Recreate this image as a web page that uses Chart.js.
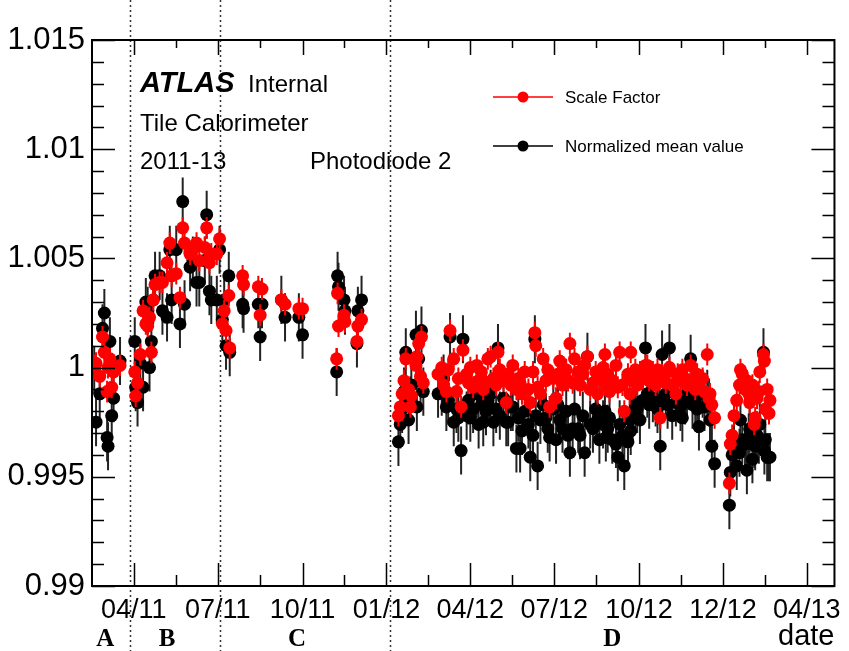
<!DOCTYPE html>
<html>
<head>
<meta charset="utf-8">
<script src="https://cdn.jsdelivr.net/npm/chart.js@4.4.0/dist/chart.umd.min.js"></script>
<style>
    html, body { margin: 0; padding: 0; background: #fff; }
    #wrap { width: 849px; height: 651px; }
</style>
</head>
<body>
<div id="wrap"><canvas id="myChart" width="849" height="651"></canvas></div>
<script>
// x axis: days counted from 2011-01-01
const tickDays = [90, 181, 273, 364, 455, 546, 638, 729, 820];
const tickLabels = ["04/11", "07/11", "10/11", "01/12", "04/12", "07/12", "10/12", "12/12", "04/13"];
const periodEdges = [86, 183, 368];
const periodNames = ["A", "B", "C", "D"];
const periodLabelDays = [59, 126, 267, 609];

const days = [
    // A
    47, 49, 53, 56, 58, 61, 62, 64, 66, 68, 75,
    // B
    91, 92, 94, 97, 100, 103, 105, 107, 109, 111, 113, 118, 121, 126, 129, 131, 136, 140, 143, 145,
    151, 154, 158, 161, 167, 169, 172, 174, 180, 183,
    // C
    186, 188, 190, 193, 194, 208, 209, 225, 227, 229, 250, 254, 269, 273, 310, 311, 312, 318, 319, 332, 333, 337,
    // D
    377, 379, 381, 383, 385, 388, 390, 391, 396, 397, 399, 401, 402, 404,
    420, 424, 426, 429, 431, 433, 437, 440, 442, 445, 447, 451, 453, 455, 458, 462, 464, 467, 469, 472,
    474, 477, 480, 483, 485, 487, 491, 494, 496, 499, 501, 505, 507, 509, 511, 514, 518, 520, 523, 525,
    526, 528, 531, 534, 537, 539, 541, 545, 548, 550, 552, 555, 559, 561, 563, 566, 568, 572, 574, 577,
    579, 582, 585, 588, 591, 593, 595, 599, 601, 602, 604, 606, 609, 613, 615, 617, 620, 622, 626, 628,
    629, 631, 634, 636, 639, 642, 645, 647, 649, 653, 656, 658, 660, 661, 663, 667, 669, 671, 674, 678,
    680, 683, 685, 688, 690, 694, 696, 699, 701, 703, 707, 709, 712, 714, 715, 717, 720,
    736, 737, 739, 741, 744, 747, 748, 750, 753, 755, 757, 758, 761, 763, 764, 766, 768, 769, 773, 774,
    775, 777, 779, 780
];

const scaleFactor = [
    1.0001, 1.0002, 0.9996, 1.0014, 1.0007, 0.9989, 1.0000, 1.0004, 0.9991, 0.9998, 1.0001,
    0.9998, 0.9987, 0.9993, 1.0006, 1.0026, 1.0020, 1.0019, 1.0023, 1.0007, 1.0031, 1.0038, 1.0039, 1.0039, 1.0048, 1.0057, 1.0042, 1.0043, 1.0032, 1.0064, 1.0057,
    1.0052, 1.0054, 1.0057, 1.0049, 1.0055, 1.0064, 1.0048, 1.0052, 1.0052, 1.0059,
    1.0020, 1.0026, 1.0017, 1.0033, 1.0009, 1.0042, 1.0038, 1.0037, 1.0024, 1.0036, 1.0031, 1.0029, 1.0027, 1.0027, 1.0004, 1.0034, 1.0019, 1.0024, 1.0021, 1.0012, 1.0019, 1.0022,
    0.9978, 0.9982, 0.9988, 0.9994, 1.0004, 0.9990, 0.9982, 0.9987, 1.0001, 1.0005, 1.0011, 0.9996, 1.0014, 0.9993,
    0.9997, 1.0000, 0.9992, 0.9989, 0.9999, 1.0017, 1.0004, 0.9989, 0.9995, 0.9982, 1.0008, 0.9997, 0.9993, 1.0000, 0.9991, 1.0001, 0.9994, 0.9998, 0.9990, 0.9993,
    1.0004, 1.0005, 0.9995, 0.9992, 1.0007, 0.9999, 0.9994, 0.9984, 0.9997, 0.9992, 1.0001, 0.9990, 0.9995, 0.9993, 0.9988, 0.9998, 0.9990, 0.9984, 0.9998, 1.0016,
    1.0010, 0.9991, 0.9988, 1.0004, 0.9994, 0.9999, 0.9982, 0.9995, 0.9986, 0.9997, 1.0003, 0.9992, 0.9999, 0.9994, 1.0011, 0.9993, 1.0004, 0.9998, 0.9992, 0.9997,
    1.0001, 1.0005, 0.9990, 0.9993, 0.9998, 0.9988, 0.9995, 1.0000, 1.0006, 0.9992, 0.9997, 0.9989, 0.9994, 1.0001, 0.9991, 1.0007, 0.9992, 0.9980, 0.9997, 0.9988,
    1.0007, 0.9994, 0.9999, 0.9992, 0.9998, 0.9995, 1.0001, 1.0001, 0.9994, 0.9998, 0.9992, 0.9999, 0.9995, 0.9977, 0.9997, 0.9993, 0.9998, 1.0000, 0.9992, 0.9988,
    0.9997, 0.9994, 0.9999, 0.9995, 0.9992, 1.0001, 0.9994, 0.9990, 0.9997, 0.9993, 0.9995, 0.9989, 1.0006, 0.9986, 0.9988, 0.9983, 0.9977,
    0.9947, 0.9965, 0.9969, 0.9978, 0.9985, 0.9992, 0.9999, 0.9997, 0.9990, 0.9994, 0.9988, 0.9984, 0.9992, 0.9974, 0.9977, 0.9986, 0.9989, 0.9998, 1.0006, 1.0003,
    0.9981, 0.9990, 0.9979, 0.9985
];

const meanValue = [
    0.9999, 0.9975, 0.9988, 1.0018, 1.0025, 0.9968, 0.9964, 1.0012, 0.9978, 0.9986, 1.0003,
    1.0012, 0.9991, 0.9984, 1.0002, 0.9991, 1.0030, 1.0026, 1.0000, 1.0012, 1.0031, 1.0042, 1.0042, 1.0026, 1.0023, 1.0054, 1.0031, 1.0054, 1.0020, 1.0076, 1.0029,
    1.0046, 1.0049, 1.0039, 1.0039, 1.0049, 1.0070, 1.0035, 1.0031, 1.0031, 1.0054,
    1.0022, 1.0031, 1.0010, 1.0042, 1.0007, 1.0029, 1.0027, 1.0029, 1.0014, 1.0029, 1.0031, 1.0023, 1.0023, 1.0015, 0.9998, 1.0042, 1.0037, 1.0031, 1.0026, 1.0011, 1.0026, 1.0031,
    0.9966, 0.9974, 0.9981, 0.9989, 1.0007, 0.9976, 0.9985, 0.9992, 1.0015, 0.9982, 1.0004, 0.9994, 1.0017, 0.9989,
    0.9988, 0.9989, 0.9995, 0.9982, 0.9985, 1.0014, 0.9975, 0.9981, 0.9977, 0.9962, 1.0013, 0.9978, 0.9985, 0.9977, 0.9981, 0.9988, 0.9974, 0.9983, 0.9975, 0.9980,
    0.9985, 0.9988, 0.9975, 0.9981, 1.0009, 0.9978, 0.9986, 0.9975, 0.9975, 0.9982, 0.9982, 0.9963, 0.9977, 0.9963, 0.9971, 0.9980, 0.9974, 0.9959, 0.9969, 1.0013,
    0.9978, 0.9955, 0.9976, 0.9983, 0.9977, 0.9972, 0.9968, 0.9981, 0.9967, 0.9983, 0.9976, 0.9972, 0.9980, 0.9969, 0.9961, 0.9972, 0.9981, 0.9972, 0.9969, 0.9978,
    0.9961, 1.0005, 0.9974, 0.9972, 0.9981, 0.9976, 0.9967, 0.9974, 0.9980, 0.9968, 0.9972, 0.9977, 0.9967, 0.9965, 0.9959, 0.9974, 0.9969, 0.9955, 0.9966, 0.9976,
    0.9971, 0.9978, 0.9983, 0.9981, 0.9976, 0.9985, 1.0009, 0.9988, 0.9983, 0.9986, 0.9984, 0.9981, 0.9985, 0.9964, 1.0006, 0.9988, 0.9983, 1.0009, 0.9978, 0.9984,
    0.9986, 0.9982, 0.9977, 0.9985, 0.9988, 1.0004, 0.9983, 0.9985, 0.9981, 0.9973, 0.9988, 0.9982, 0.9988, 0.9984, 0.9976, 0.9964, 0.9956,
    0.9937, 0.9952, 0.9960, 0.9964, 0.9955, 0.9961, 0.9976, 0.9967, 0.9965, 0.9953, 0.9968, 0.9972, 0.9958, 0.9965, 0.9964, 0.9969, 0.9967, 0.9974, 1.0007, 0.9962,
    0.9967, 0.9959, 0.9959, 0.9959
];

const sfError = 0.0005;
const meanError = 0.0011;

const sansFont = "'Liberation Sans', Arial, sans-serif";

function toPoints(values) {
    return values.map((v, i) => ({ x: days[i], y: v }));
}

// ROOT-like frame, inner ticks, error bars, run periods and texts
const rootStyle = {
    id: "rootStyle",
    beforeDatasetsDraw(chart) {
        const ctx = chart.ctx;
        const xs = chart.scales.x;
        ctx.save();
        ctx.strokeStyle = "#333";
        ctx.lineWidth = 1.5;
        ctx.setLineDash([2, 3]);
        periodEdges.forEach((d) => {
            const px = Math.round(xs.getPixelForValue(d)) + 0.5;
            ctx.beginPath();
            ctx.moveTo(px, 0);
            ctx.lineTo(px, chart.height);
            ctx.stroke();
        });
        ctx.restore();
    },
    beforeDatasetDraw(chart, args) {
        const ds = chart.data.datasets[args.index];
        const ys = chart.scales.y;
        const area = chart.chartArea;
        const ctx = chart.ctx;
        ctx.save();
        ctx.beginPath();
        ctx.rect(area.left, area.top, area.right - area.left, area.bottom - area.top);
        ctx.clip();
        ctx.strokeStyle = ds.errColor;
        ctx.lineWidth = 2;
        args.meta.data.forEach((pt, i) => {
            const v = ds.data[i].y;
            ctx.beginPath();
            ctx.moveTo(pt.x, ys.getPixelForValue(v - ds.errSize));
            ctx.lineTo(pt.x, ys.getPixelForValue(v + ds.errSize));
            ctx.stroke();
        });
        ctx.restore();
    },
    afterDraw(chart) {
        const ctx = chart.ctx;
        const { left, right, top, bottom } = chart.chartArea;
        const xs = chart.scales.x;
        const ys = chart.scales.y;

        ctx.save();
        ctx.strokeStyle = "#000";
        ctx.lineWidth = 2;
        ctx.strokeRect(left, top, right - left, bottom - top);

        // y ticks, both sides
        ctx.lineWidth = 1.5;
        for (let k = 0; k <= 25; k++) {
            const v = 0.99 + k * 0.001;
            const py = Math.round(ys.getPixelForValue(v)) + 0.5;
            const len = k % 5 === 0 ? 23 : 12;
            ctx.beginPath();
            ctx.moveTo(left, py);
            ctx.lineTo(left + len, py);
            ctx.moveTo(right, py);
            ctx.lineTo(right - len, py);
            ctx.stroke();
        }

        // x ticks, bottom and top
        const step = tickDays[1] - tickDays[0];
        const xTicks = [];
        tickDays.forEach((d) => {
            xTicks.push({ d, major: true });
            xTicks.push({ d: d + step / 2, major: false });
        });
        xTicks.forEach(({ d, major }) => {
            if (d > xs.max) return;
            const px = Math.round(xs.getPixelForValue(d)) + 0.5;
            ctx.beginPath();
            ctx.moveTo(px, bottom);
            ctx.lineTo(px, bottom - (major ? 23 : 11));
            ctx.moveTo(px, top);
            ctx.lineTo(px, top + (major ? 15 : 8));
            ctx.stroke();
        });

        // run period letters
        ctx.fillStyle = "#000";
        ctx.font = "bold 25px 'Liberation Serif', 'Times New Roman', serif";
        ctx.textAlign = "center";
        ctx.textBaseline = "alphabetic";
        periodNames.forEach((name, i) => {
            ctx.fillText(name, xs.getPixelForValue(periodLabelDays[i]), 646);
        });

        // labels inside the frame
        ctx.textAlign = "left";
        ctx.font = "italic bold 29px " + sansFont;
        ctx.fillText("ATLAS", 140, 92);
        ctx.font = "24px " + sansFont;
        ctx.fillText("Internal", 248, 92);
        ctx.fillText("Tile Calorimeter", 140, 131);
        ctx.fillText("2011-13", 140, 169);
        ctx.fillText("Photodiode 2", 310, 169);

        // legend
        chart.data.datasets.forEach((ds, i) => {
            const ly = i === 0 ? 97 : 146;
            ctx.strokeStyle = ds.borderColor;
            ctx.lineWidth = 1.5;
            ctx.beginPath();
            ctx.moveTo(493, ly);
            ctx.lineTo(553, ly);
            ctx.stroke();
            ctx.fillStyle = ds.backgroundColor;
            ctx.beginPath();
            ctx.arc(523, ly, 5.5, 0, Math.PI * 2);
            ctx.fill();
            ctx.fillStyle = "#000";
            ctx.font = "17px " + sansFont;
            ctx.fillText(ds.label, 565, ly + 6);
        });
        ctx.restore();
    },
};

const ctx = document.getElementById("myChart").getContext("2d");
new Chart(ctx, {
    type: "scatter",
    data: {
        datasets: [
            {
                label: "Scale Factor",
                data: toPoints(scaleFactor),
                backgroundColor: "#ff0000",
                borderColor: "#ff0000",
                errColor: "#ff0000",
                errSize: sfError,
                pointRadius: 6.5,
                borderWidth: 0,
                showLine: false,
            },
            {
                label: "Normalized mean value",
                data: toPoints(meanValue),
                backgroundColor: "#000000",
                borderColor: "#000000",
                errColor: "#222222",
                errSize: meanError,
                pointRadius: 6.5,
                borderWidth: 0,
                showLine: false,
            },
        ],
    },
    options: {
        responsive: false,
        animation: false,
        devicePixelRatio: 1,
        layout: { padding: { top: 40, right: 11, left: 0, bottom: 0 } },
        plugins: {
            legend: { display: false },
            tooltip: { enabled: false },
        },
        scales: {
            x: {
                type: "linear",
                min: 44.6,
                max: 850,
                grid: { display: false, drawTicks: false, tickLength: 0 },
                border: { display: false },
                afterBuildTicks: (scale) => {
                    scale.ticks = tickDays.map((d) => ({ value: d }));
                },
                afterFit: (scale) => {
                    scale.height = 65;
                },
                ticks: {
                    autoSkip: false,
                    maxRotation: 0,
                    padding: 8,
                    color: "#000",
                    font: { family: sansFont, size: 27 },
                    callback: (v, i) => tickLabels[i],
                },
                title: {
                    display: true,
                    text: "date",
                    align: "end",
                    color: "#000",
                    font: { family: sansFont, size: 29, lineHeight: 1 },
                    padding: { top: 0, bottom: 0 },
                },
            },
            y: {
                min: 0.99,
                max: 1.015,
                grid: { display: false, drawTicks: false, tickLength: 0 },
                border: { display: false },
                afterFit: (scale) => {
                    scale.width = 92;
                },
                ticks: {
                    stepSize: 0.005,
                    padding: 7,
                    color: "#000",
                    font: { family: sansFont, size: 31 },
                    callback: (v) => String(+v.toFixed(3)),
                },
            },
        },
    },
    plugins: [rootStyle],
});
</script>
</body>
</html>
